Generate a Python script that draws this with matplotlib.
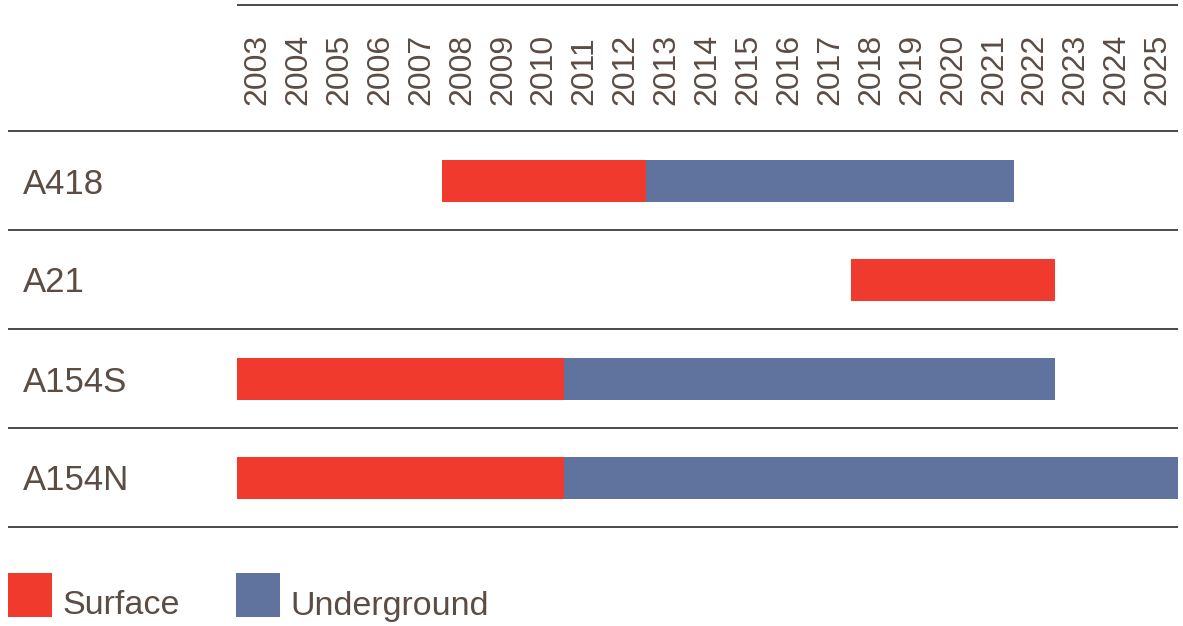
import matplotlib.pyplot as plt
import numpy as np

# roads and their surface / underground periods (years)
roads = ['A418', 'A21', 'A154S', 'A154N']
surface_start = [2008, 2018, 2003, 2003]
surface_end = [2013, 2023, 2011, 2011]
under_start = [2013, np.nan, 2011, 2011]
under_end = [2022, np.nan, 2023, 2026]
years = list(range(2003, 2026))

RED = '#ef3a2d'
BLUE = '#5f739e'
TXT = '#5b4c44'
LINE = '#4a4a4a'


def main():
	plt.rcParams['font.family'] = ['Liberation Sans', 'DejaVu Sans']
	fig = plt.figure(figsize=(11.83, 6.26), dpi=100)
	ax = fig.add_axes([0, 0, 1, 1])

	px = 941 / 23.0  # pixels per year
	x0 = 2003 - 237 / px
	ax.set_xlim(x0, x0 + 1183 / px)
	row_px = 99.0
	ax.set_ylim((626 - 181) / row_px, -181 / row_px)
	ax.axis('off')

	n = len(roads)
	y = np.arange(n)
	s0 = np.array(surface_start, float)
	s1 = np.array(surface_end, float)
	u0 = np.array(under_start, float)
	u1 = np.array(under_end, float)

	ax.barh(y, s1 - s0, left=s0, height=0.43, color=RED, linewidth=0)
	ok = ~np.isnan(u0)
	ax.barh(y[ok], (u1 - u0)[ok], left=u0[ok], height=0.43, color=BLUE, linewidth=0)

	# separator lines
	xl = x0 + 8 / px
	ax.hlines(np.arange(n + 1) - 0.51, xl, 2026, color=LINE, lw=1.4)
	ax.hlines(-176 / row_px, 2003, 2026, color=LINE, lw=1.4)

	# year labels
	for yr in years:
		ax.text(yr + 0.5, -76 / row_px, str(yr), rotation=90, ha='center', va='bottom',
				fontsize=23, color=TXT)

	for i, r in enumerate(roads):
		ax.text(x0 + 23 / px, i + 3 / row_px, r, ha='left', va='center', fontsize=25, color=TXT)

	# legend
	ly = (595 - 181) / row_px
	for xs, col, lab, xt in [(8, RED, 'Surface', 62), (236, BLUE, 'Underground', 290)]:
		ax.add_patch(plt.Rectangle((x0 + xs / px, ly - 22 / row_px), 44 / px, 44 / row_px,
								   color=col, lw=0))
		ax.text(x0 + xt / px, ly + 11 / row_px, lab, ha='left', va='center', fontsize=24.5, color=TXT)

	fig.savefig('out.png', dpi=100)


if __name__ == '__main__':
	main()
